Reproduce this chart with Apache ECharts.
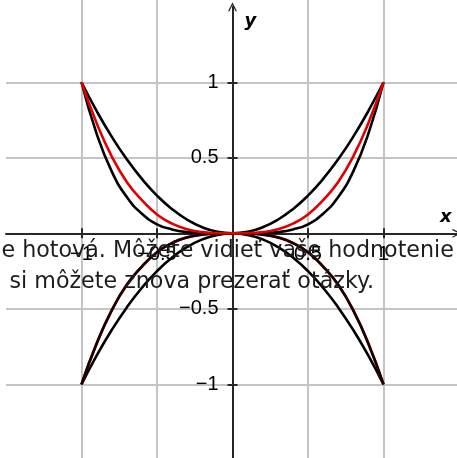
<!DOCTYPE html>
<html>
<head>
<meta charset="utf-8">
<script src="https://cdn.jsdelivr.net/npm/echarts@6/dist/echarts.min.js"></script>
<style>
  html, body { margin: 0; padding: 0; background: #fff; }
  #chart { width: 457px; height: 458px; }
</style>
</head>
<body>
<div id="chart"></div>
<script>
// sample positions along x
const xs = [-1, -0.9, -0.8, -0.7, -0.6, -0.5, -0.4, -0.3, -0.2, -0.1, 0,
  0.1, 0.2, 0.3, 0.4, 0.5, 0.6, 0.7, 0.8, 0.9, 1]

// values
const upperOuter = [1, 0.81, 0.64, 0.49, 0.36, 0.25, 0.16, 0.09, 0.04, 0.01, 0,
  0.01, 0.04, 0.09, 0.16, 0.25, 0.36, 0.49, 0.64, 0.81, 1]
const upperInner = [1, 0.66, 0.41, 0.24, 0.13, 0.06, 0.026, 0.008, 0.002, 0, 0,
  0, 0.002, 0.008, 0.026, 0.06, 0.13, 0.24, 0.41, 0.66, 1]
const upperRed = [1, 0.73, 0.51, 0.34, 0.22, 0.125, 0.064, 0.027, 0.008, 0.001, 0,
  0.001, 0.008, 0.027, 0.064, 0.125, 0.22, 0.34, 0.51, 0.73, 1]
const lowerOuter = [-1, -0.81, -0.64, -0.49, -0.36, -0.25, -0.16, -0.09, -0.04, -0.01, 0,
  -0.01, -0.04, -0.09, -0.16, -0.25, -0.36, -0.49, -0.64, -0.81, -1]
const lowerInner = [-1, -0.73, -0.51, -0.34, -0.22, -0.125, -0.064, -0.027, -0.008, -0.001, 0,
  -0.001, -0.008, -0.027, -0.064, -0.125, -0.22, -0.34, -0.51, -0.73, -1]

const tickValues = [-1, -0.5, 0.5, 1]
const overlayLines = ['e hotová. Môžete vidieť vaše hodnotenie', 'si môžete znova prezerať otázky.']

const pairs = ys => xs.map((x, i) => [x, ys[i]])
const fmt = v => (v < 0 ? '\u2212' + Math.abs(v) : String(v))

const chart = echarts.init(document.getElementById('chart'))

const labelStyle = {
  color: '#000',
  fontFamily: 'Liberation Sans',
  fontSize: 20
}
const axisColor = '#262626'
const arrow = 'path://M0,10 L5,0 L10,10 L8.4,10 L5,3.2 L1.6,10 Z'

// pixel position of the origin
const zeroX = 232.5
const zeroY = 233.35
const H = 458

const curve = (data, color, width, z) => ({
  type: 'line',
  xAxisIndex: 1,
  yAxisIndex: 1,
  data: pairs(data),
  smooth: true,
  showSymbol: false,
  silent: true,
  z: z,
  lineStyle: { color: color, width: width }
})

const option = {
  animation: false,
  backgroundColor: '#fff',
  grid: [
    // background grid lines + inner half of ticks
    { left: 6, right: -2, top: -2, bottom: -2, outerBoundsMode: 'none', containLabel: false },
    // axes and curves
    { left: 6, right: 0, top: 6.7, bottom: -2, outerBoundsMode: 'none', containLabel: false }
  ],
  xAxis: [
    {
      type: 'value', gridIndex: 0, min: -1.5, max: 1.5, interval: 0.5,
      position: 'bottom', offset: -(H + 2 - zeroY),
      axisLine: { show: false, onZero: false },
      axisTick: { show: true, inside: true, length: 5, customValues: tickValues,
        lineStyle: { color: axisColor, width: 2 } },
      axisLabel: { show: false },
      splitLine: { show: true, lineStyle: { color: '#c4c4c4', width: 2 } }
    },
    {
      type: 'value', gridIndex: 1, min: -1.5, max: 1.4868, interval: 0.5,
      position: 'bottom', offset: -(H + 2 - zeroY),
      name: 'x', nameLocation: 'end', nameGap: -17,
      nameTextStyle: { fontFamily: 'DejaVu Sans', fontStyle: 'italic', fontWeight: 'bold',
        fontSize: 18, color: '#000', verticalAlign: 'bottom', padding: [0, 0, 7, 0] },
      axisLine: { show: true, onZero: false, symbol: ['none', arrow], symbolSize: [11, 9],
        lineStyle: { color: axisColor, width: 2 } },
      axisTick: { show: true, length: 5, customValues: tickValues,
        lineStyle: { color: axisColor, width: 2 } },
      axisLabel: Object.assign({ margin: 11, customValues: tickValues, formatter: fmt }, labelStyle),
      splitLine: { show: false }
    }
  ],
  yAxis: [
    {
      type: 'value', gridIndex: 0, min: -1.5, max: 1.5576, interval: 0.5,
      position: 'left', offset: -(zeroX - 6),
      axisLine: { show: false, onZero: false },
      axisTick: { show: true, inside: true, length: 5, customValues: tickValues,
        lineStyle: { color: axisColor, width: 2 } },
      axisLabel: { show: false },
      splitLine: { show: true, lineStyle: { color: '#c4c4c4', width: 2 } }
    },
    {
      type: 'value', gridIndex: 1, min: -1.5, max: 1.5, interval: 0.5,
      position: 'left', offset: -(zeroX - 6),
      name: 'y', nameLocation: 'end', nameGap: -24,
      nameTextStyle: { fontFamily: 'DejaVu Sans', fontStyle: 'italic', fontWeight: 'bold',
        fontSize: 18, color: '#000', align: 'left', padding: [0, 0, 0, 12] },
      axisLine: { show: true, onZero: false, symbol: ['none', arrow], symbolSize: [11, 9],
        lineStyle: { color: axisColor, width: 2 } },
      axisTick: { show: true, length: 5, customValues: tickValues,
        lineStyle: { color: axisColor, width: 2 } },
      axisLabel: Object.assign({ margin: 14, customValues: tickValues, formatter: fmt }, labelStyle),
      splitLine: { show: false }
    }
  ],
  series: [
    curve(lowerOuter, '#000', 2.6, 3),
    curve(lowerInner, '#a00000', 2.8, 3),
    curve(lowerInner, '#100000', 2.4, 3),
    curve(upperOuter, '#000', 2.6, 3),
    curve(upperInner, '#000', 2.6, 3),
    curve(upperRed, '#e00000', 2.6, 4)
  ],
  graphic: overlayLines.map((txt, i) => ({
    type: 'text',
    left: i === 0 ? 1.5 : 9.5,
    top: i === 0 ? 240 : 271,
    z: 100,
    silent: true,
    style: {
      text: txt,
      fill: '#1c1c1c',
      font: '22.2px "DejaVu Sans"'
    }
  }))
}

chart.setOption(option)
</script>
</body>
</html>
